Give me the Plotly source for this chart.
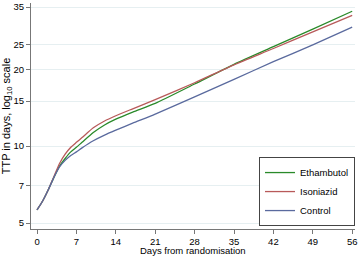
import plotly.graph_objects as go

days = [0, 1, 2, 3, 4, 5, 6, 7, 8, 10, 12, 14, 17, 21, 28, 35, 42, 49, 56]
ethambutol = [5.63, 6.1, 6.75, 7.55, 8.35, 8.95, 9.5, 9.9, 10.35, 11.3, 12.1, 12.75, 13.6, 14.7, 17.5, 20.9, 24.5, 28.7, 33.7]
isoniazid = [5.63, 6.1, 6.75, 7.6, 8.55, 9.3, 9.9, 10.35, 10.8, 11.8, 12.55, 13.15, 14.0, 15.2, 17.7, 20.8, 24.1, 28.0, 32.5]
control = [5.63, 6.1, 6.75, 7.55, 8.3, 8.8, 9.2, 9.5, 9.85, 10.5, 11.05, 11.55, 12.3, 13.35, 15.6, 18.25, 21.4, 24.9, 29.2]

series = [("Ethambutol", ethambutol, "#2a8a2a"),
          ("Isoniazid", isoniazid, "#b85a5a"),
          ("Control", control, "#5a6a9e")]

xticks = [0, 7, 14, 21, 28, 35, 42, 49, 56]
yticks = [5, 7, 10, 15, 20, 25, 35]
x_title = "Days from randomisation"

FS = 9.5

fig = go.Figure()
for name, vals, col in series:
    fig.add_trace(go.Scatter(x=days, y=vals, mode="lines", name=name,
                             line=dict(color=col, width=1.3, shape="spline", smoothing=0.6)))

fig.update_layout(
    width=359, height=256,
    margin=dict(l=31, r=4, t=3, b=27),
    paper_bgcolor="white", plot_bgcolor="white",
    font=dict(family="Liberation Sans, Arial, sans-serif", size=FS, color="black"),
    showlegend=True,
    legend=dict(x=1.0, xanchor="right", y=0.013, yanchor="bottom",
                bordercolor="#444", borderwidth=1, bgcolor="white",
                font=dict(size=FS), tracegroupgap=0, itemwidth=30),
)
fig.add_annotation(text=x_title, xref="paper", yref="paper", x=0.5, y=0,
                   xanchor="center", yanchor="top", yshift=-14, showarrow=False,
                   font=dict(size=FS))
fig.update_xaxes(range=[-1.07, 56.5], tickvals=xticks, ticktext=[str(v) for v in xticks],
                 showline=True, linecolor="#777", linewidth=1, ticks="outside",
                 ticklen=4, tickcolor="#777", showgrid=False, zeroline=False, automargin=False,
                 ticklabelstandoff=0)
fig.update_yaxes(type="log", range=[0.676, 1.560], tickvals=yticks, ticktext=[str(v) for v in yticks],
                 showline=True, linecolor="#777", linewidth=1, ticks="outside",
                 ticklen=4, tickcolor="#777", showgrid=True, gridcolor="#e6eff1", gridwidth=1,
                 zeroline=False, automargin=False,
                 title=dict(text="TTP in days, log<sub>10</sub> scale", standoff=2, font=dict(size=11)))

fig.write_html("out.html", post_script="document.body.style.margin='0';",
               config={"displayModeBar": False})
